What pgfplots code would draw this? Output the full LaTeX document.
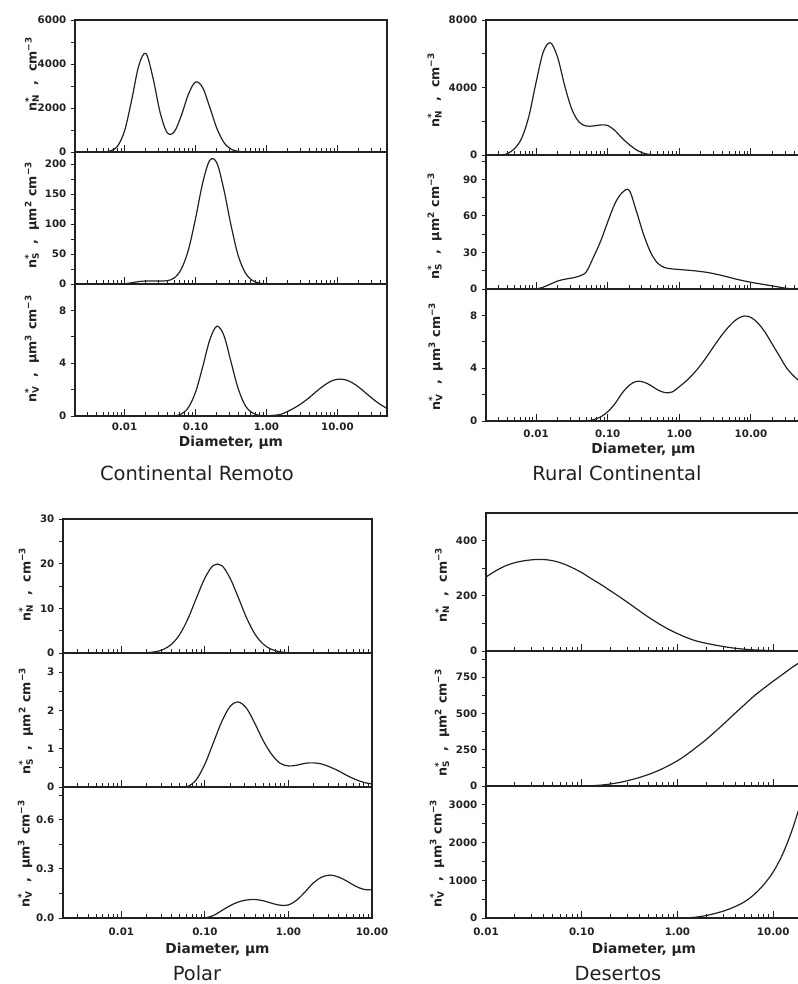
\documentclass[border=0pt]{standalone}
\usepackage{pgfplots}
\pgfplotsset{compat=1.18}
\usepackage{fontspec}
\setmainfont{DejaVu Sans}
\newcommand{\tickfont}{\fontsize{7.7}{8}\selectfont\bfseries}
\newcommand{\labfont}{\fontsize{9.5}{10}\selectfont\bfseries}
\newcommand{\xlabfont}{\fontsize{10.3}{11}\selectfont\bfseries}
\newcommand{\capfont}{\fontsize{14.6}{16}\selectfont}
\newcommand{\nst}[1]{n\rlap{\textsuperscript{*}}\textsubscript{#1}}
\definecolor{ink}{gray}{0.13}
\pgfplotsset{
 curve/.style={smooth, tension=0.55, line width=0.9pt, draw=ink, mark=none},
 panel/.style={
  scale only axis, anchor=south west,
  ymin=0,
  tick align=inside, tick pos=left,
  major tick length=5pt, minor tick length=3pt,
  major y tick style={draw=none},
  minor y tick style={xshift=-3pt},
  xtick={0.01,0.1,1,10},
  minor xtick={0.002,0.003,0.004,0.005,0.006,0.007,0.008,0.009,0.02,0.03,0.04,0.05,0.06,0.07,0.08,0.09,0.2,0.3,0.4,0.5,0.6,0.7,0.8,0.9,2,3,4,5,6,7,8,9,20,30,40,50},
  xticklabels={,,,},
  scaled y ticks=false,
  axis line style={line width=0.9pt, ink},
  tick style={line width=0.7pt, ink},
  tick label style={font=\tickfont, text=ink},
  yticklabel style={xshift=-3pt},
  ylabel style={anchor=center, font=\labfont, text=ink},
 },
 bot/.style 2 args={
  xticklabels={0.01,0.10,1.00,10.00},
  xlabel={Diameter, μm},
  xticklabel style={anchor=center, yshift=-#1},
  xlabel style={at={(axis description cs:0.5,0)}, anchor=center, yshift=-#2, font=\xlabfont, text=ink},
 },
}
\begin{document}
\begin{tikzpicture}
\useasboundingbox (0,0) rectangle (598.5pt,738pt);
% ===== Panel 1: Continental Remoto =====
\begin{semilogxaxis}[panel, at={(56.25pt,624pt)}, width=234pt, height=99pt, xmin=0.002, xmax=50,
 ymax=6000, ytick={0,2000,4000,6000}, yticklabels={0,2000,4000,6000}, minor ytick={0,1000,2000,3000,4000,5000,6000},
 ylabel={\nst{N}\ \ ,\ \ cm\textsuperscript{−3}}, ylabel style={at={(axis description cs:-0.138,0.59)}}]
\addplot[curve] coordinates {(0.003981,0) (0.005012,6) (0.006310,49) (0.007943,265) (0.01,963) (0.01259,2363) (0.01585,3927) (0.01995,4480) (0.02512,3375) (0.03162,1806) (0.03981,880) (0.05012,917) (0.06310,1660) (0.07943,2624) (0.1,3182) (0.1259,2929) (0.1585,2043) (0.1995,1080) (0.2512,433) (0.3162,132) (0.3981,30) (0.5012,5) (0.6310,0)};
\end{semilogxaxis}
\begin{semilogxaxis}[panel, at={(56.25pt,525pt)}, width=234pt, height=99pt, xmin=0.002, xmax=50,
 ymax=220, ytick={0,50,100,150,200}, yticklabels={0,50,100,150,200}, minor ytick={0,25,50,75,100,125,150,175,200},
 ylabel={\nst{S}\ \ ,\ \ μm\textsuperscript{2} cm\textsuperscript{−3}}, ylabel style={at={(axis description cs:-0.138,0.52)}}]
\addplot[curve] coordinates {(0.007943,0) (0.01,0.5) (0.01259,2) (0.01585,4) (0.01995,5) (0.02512,5) (0.03162,5) (0.03981,5.5) (0.05012,10) (0.06310,25) (0.07943,57) (0.1,109) (0.1259,168) (0.1585,206) (0.1995,202) (0.2512,157) (0.3162,98) (0.3981,48) (0.5012,19) (0.6310,6) (0.7943,1.5) (1,0)};
\end{semilogxaxis}
\begin{semilogxaxis}[panel, bot={8.25pt}{20.25pt}, at={(56.25pt,426pt)}, width=234pt, height=99pt, xmin=0.002, xmax=50,
 ymax=10, ytick={0,4,8}, yticklabels={0,4,8}, minor ytick={0,2,4,6,8},
 ylabel={\nst{V}\ \ ,\ \ μm\textsuperscript{3} cm\textsuperscript{−3}}, ylabel style={at={(axis description cs:-0.138,0.51)}}]
\addplot[curve] coordinates {(0.05012,0) (0.06310,0.15) (0.07943,0.65) (0.1,1.8) (0.1259,3.7) (0.1585,5.75) (0.1995,6.8) (0.2512,6.1) (0.3162,4.1) (0.3981,2.1) (0.5012,0.8) (0.6310,0.24) (0.7943,0.05) (1,0.02) (1.259,0.05) (1.585,0.12) (1.995,0.35) (2.512,0.63) (3.162,0.97) (3.981,1.38) (5.012,1.84) (6.310,2.27) (7.943,2.61) (10,2.78) (12.59,2.76) (15.85,2.55) (19.95,2.19) (25.12,1.74) (31.62,1.29) (39.81,0.89) (50.12,0.57)};
\end{semilogxaxis}
\node[anchor=base, font=\capfont, text=ink] at (147.75pt,377.25pt) {Continental Remoto};
% ===== Panel 2: Rural Continental =====
\begin{semilogxaxis}[panel, at={(364.5pt,621.75pt)}, width=236.25pt, height=101.25pt, xmin=0.002, xmax=50,
 ymax=8000, ytick={0,4000,8000}, yticklabels={0,4000,8000}, minor ytick={0,2000,4000,6000,8000},
 ylabel={\nst{N}\ \ ,\ \ cm\textsuperscript{−3}}, ylabel style={at={(axis description cs:-0.163,0.48)}}]
\addplot[curve] coordinates {(0.003162,0) (0.003981,80) (0.005012,380) (0.006310,1000) (0.007943,2300) (0.01,4300) (0.01259,6100) (0.01585,6650) (0.01995,5800) (0.02512,4100) (0.03162,2700) (0.03981,1950) (0.05012,1720) (0.06310,1720) (0.07943,1780) (0.1,1750) (0.1259,1450) (0.1585,1000) (0.1995,620) (0.2512,300) (0.3162,110) (0.3981,20) (0.5012,0)};
\end{semilogxaxis}
\begin{semilogxaxis}[panel, at={(364.5pt,521.25pt)}, width=236.25pt, height=100.5pt, xmin=0.002, xmax=50,
 ymax=110, ytick={0,30,60,90}, yticklabels={0,30,60,90}, minor ytick={0,15,30,45,60,75,90,105},
 ylabel={\nst{S}\ \ ,\ \ μm\textsuperscript{2} cm\textsuperscript{−3}}, ylabel style={at={(axis description cs:-0.163,0.47)}}]
\addplot[curve] coordinates {(0.01,0) (0.01259,1.5) (0.01585,4) (0.01995,6.5) (0.02512,8) (0.03162,9) (0.03981,10.5) (0.05012,14) (0.06310,26) (0.07943,39) (0.1,55) (0.1259,70) (0.1585,79) (0.1995,81) (0.2512,64) (0.3162,45) (0.3981,30) (0.5012,21) (0.6310,17.5) (0.7943,16.5) (1,16) (1.585,15) (2.512,13.5) (3.981,11) (6.310,8) (10,5.5) (15.85,3.5) (25.12,1.5) (31.62,0.5) (39.81,0)};
\end{semilogxaxis}
\begin{semilogxaxis}[panel, bot={9.75pt}{21.75pt}, at={(364.5pt,422.25pt)}, width=236.25pt, height=99pt, xmin=0.002, xmax=50,
 ymax=10, ytick={0,4,8}, yticklabels={0,4,8}, minor ytick={0,2,4,6,8},
 ylabel={\nst{V}\ \ ,\ \ μm\textsuperscript{3} cm\textsuperscript{−3}}, ylabel style={at={(axis description cs:-0.16,0.49)}}]
\addplot[curve] coordinates {(0.05012,0) (0.06310,0.1) (0.07943,0.3) (0.1,0.7) (0.1259,1.3) (0.1585,2.1) (0.1995,2.7) (0.2512,3.0) (0.3162,2.95) (0.3981,2.7) (0.5012,2.35) (0.6310,2.15) (0.7943,2.2) (1,2.6) (1.259,3.05) (1.585,3.6) (1.995,4.25) (2.512,5.0) (3.162,5.8) (3.981,6.55) (5.012,7.2) (6.310,7.7) (7.943,7.95) (10,7.85) (12.59,7.4) (15.85,6.7) (19.95,5.8) (25.12,4.9) (31.62,4.0) (39.81,3.4) (50.12,2.9)};
\end{semilogxaxis}
\node[anchor=base, font=\capfont, text=ink] at (462.75pt,377.25pt) {Rural Continental};
% ===== Panel 3: Polar =====
\begin{semilogxaxis}[panel, at={(47.25pt,248.25pt)}, width=231.75pt, height=100.5pt, xmin=0.002, xmax=10,
 ymax=30, ytick={0,10,20,30}, yticklabels={0,10,20,30}, minor ytick={0,5,10,15,20,25,30},
 ylabel={\nst{N}\ \ ,\ \ cm\textsuperscript{−3}}, ylabel style={at={(axis description cs:-0.12,0.51)}}]
\addplot[curve] coordinates {(0.01259,0) (0.01585,0.02) (0.01995,0.08) (0.02512,0.26) (0.03162,0.78) (0.03981,1.95) (0.05012,4.2) (0.06310,7.8) (0.07943,12.4) (0.1,16.8) (0.1259,19.6) (0.1585,19.6) (0.1995,16.8) (0.2512,12.4) (0.3162,7.8) (0.3981,4.2) (0.5012,1.95) (0.6310,0.78) (0.7943,0.26) (1,0.08) (1.259,0.02) (1.585,0)};
\end{semilogxaxis}
\begin{semilogxaxis}[panel, at={(47.25pt,147.75pt)}, width=231.75pt, height=100.5pt, xmin=0.002, xmax=10,
 ymax=3.5, ytick={0,1,2,3}, yticklabels={0,1,2,3}, minor ytick={0,0.5,1,1.5,2,2.5,3},
 ylabel={\nst{S}\ \ ,\ \ μm\textsuperscript{2} cm\textsuperscript{−3}}, ylabel style={at={(axis description cs:-0.12,0.49)}}]
\addplot[curve] coordinates {(0.05012,0) (0.06310,0.02) (0.07943,0.2) (0.1,0.6) (0.1259,1.15) (0.1585,1.7) (0.1995,2.1) (0.2512,2.22) (0.3162,2.05) (0.3981,1.65) (0.5012,1.2) (0.6310,0.85) (0.7943,0.62) (1,0.55) (1.259,0.57) (1.585,0.62) (1.995,0.63) (2.512,0.6) (3.162,0.52) (3.981,0.42) (5.012,0.3) (6.310,0.2) (7.943,0.12) (10,0.08)};
\end{semilogxaxis}
\begin{semilogxaxis}[panel, bot={10.5pt}{24pt}, at={(47.25pt,49.5pt)}, width=231.75pt, height=98.25pt, xmin=0.002, xmax=10,
 ymax=0.8, ytick={0,0.3,0.6}, yticklabels={0.0,0.3,0.6}, minor ytick={0,0.15,0.3,0.45,0.6,0.75},
 ylabel={\nst{V}\ \ ,\ \ μm\textsuperscript{3} cm\textsuperscript{−3}}, ylabel style={at={(axis description cs:-0.123,0.49)}}]
\addplot[curve] coordinates {(0.1,0) (0.1259,0.015) (0.1585,0.045) (0.1995,0.075) (0.2512,0.098) (0.3162,0.11) (0.3981,0.113) (0.5012,0.105) (0.6310,0.09) (0.7943,0.078) (1,0.08) (1.259,0.11) (1.585,0.16) (1.995,0.215) (2.512,0.25) (3.162,0.262) (3.981,0.25) (5.012,0.225) (6.310,0.195) (7.943,0.175) (10,0.172)};
\end{semilogxaxis}
\node[anchor=base, font=\capfont, text=ink] at (147.75pt,2.25pt) {Polar};
% ===== Panel 4: Desertos =====
\begin{semilogxaxis}[panel, at={(364.5pt,249.75pt)}, width=237pt, height=103.5pt, xmin=0.01, xmax=20,
 ymax=500, ytick={0,200,400}, yticklabels={0,200,400}, minor ytick={0,100,200,300,400},
 ylabel={\nst{N}\ \ ,\ \ cm\textsuperscript{−3}}, ylabel style={at={(axis description cs:-0.139,0.48)}}]
\addplot[curve] coordinates {(0.01,268) (0.01259,290) (0.01585,308) (0.01995,320) (0.02512,327) (0.03162,331) (0.03981,331.5) (0.05012,327) (0.06310,317) (0.07943,302) (0.1,284) (0.1259,262) (0.1585,241) (0.1995,218) (0.2512,195) (0.3162,171) (0.3981,146) (0.5012,122) (0.6310,100) (0.7943,80) (1,63) (1.259,48) (1.585,36) (1.995,28) (2.512,21) (3.162,15) (3.981,10) (5.012,6.5) (6.310,4) (7.943,2.5) (10,1.5) (12.59,0.7) (19.95,0)};
\end{semilogxaxis}
\begin{semilogxaxis}[panel, at={(364.5pt,148.5pt)}, width=237pt, height=101.25pt, xmin=0.01, xmax=20,
 ymax=930, ytick={0,250,500,750}, yticklabels={0,250,500,750}, minor ytick={0,125,250,375,500,625,750,875},
 ylabel={\nst{S}\ \ ,\ \ μm\textsuperscript{2} cm\textsuperscript{−3}}, ylabel style={at={(axis description cs:-0.139,0.47)}}]
\addplot[curve] coordinates {(0.1,0) (0.1259,2) (0.1585,6) (0.1995,14) (0.2512,25) (0.3162,40) (0.3981,58) (0.5012,80) (0.6310,106) (0.7943,138) (1,174) (1.259,218) (1.585,268) (1.995,320) (2.512,378) (3.162,438) (3.981,500) (5.012,560) (6.310,620) (7.943,672) (10,722) (12.59,770) (15.85,818) (19.95,862)};
\end{semilogxaxis}
\begin{semilogxaxis}[panel, bot={10.5pt}{24pt}, at={(364.5pt,49.5pt)}, width=237pt, height=99pt, xmin=0.01, xmax=20,
 ymax=3500, ytick={0,1000,2000,3000}, yticklabels={0,1000,2000,3000}, minor ytick={0,500,1000,1500,2000,2500,3000},
 ylabel={\nst{V}\ \ ,\ \ μm\textsuperscript{3} cm\textsuperscript{−3}}, ylabel style={at={(axis description cs:-0.155,0.49)}}]
\addplot[curve] coordinates {(1,0) (1.259,5) (1.585,25) (1.995,65) (2.512,125) (3.162,200) (3.981,300) (5.012,430) (6.310,620) (7.943,880) (10,1220) (12.59,1700) (15.85,2350) (19.95,3150)};
\end{semilogxaxis}
\node[anchor=base, font=\capfont, text=ink] at (463.5pt,2.25pt) {Desertos};
\end{tikzpicture}
\end{document}
